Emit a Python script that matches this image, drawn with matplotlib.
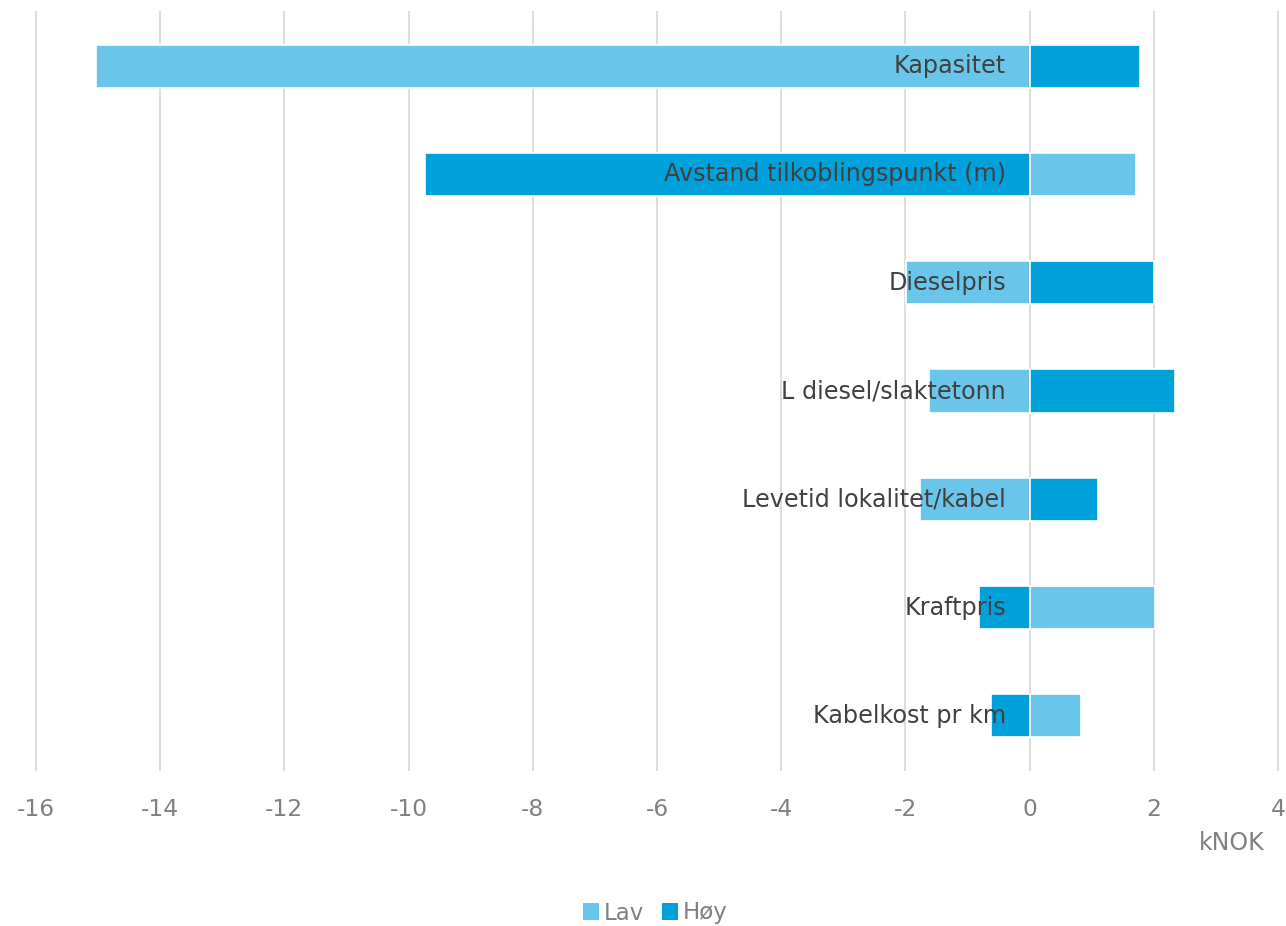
import numpy as np
import matplotlib.pyplot as plt
from matplotlib.patches import Patch

plt.rcParams["axes.unicode_minus"] = False

# Sensitivity (tornado) data, kNOK
categories = ["Kapasitet", "Avstand tilkoblingspunkt (m)", "Dieselpris",
              "L diesel/slaktetonn", "Levetid lokalitet/kabel", "Kraftpris",
              "Kabelkost pr km"]
lav = [-15.03, 1.72, -1.99, -1.62, -1.76, 2.02, 0.83]
hoy = [1.77, -9.74, 2.00, 2.34, 1.10, -0.81, -0.62]

c_lav = "#69C5EA"
c_hoy = "#00A1DA"

fig = plt.figure(figsize=(12.86, 9.26), dpi=100)
ax = fig.add_axes([0.028, 0.1685, 0.9658, 0.8185])

y = np.arange(len(categories))
ax.barh(y, lav, height=0.4, color=c_lav, edgecolor="white", linewidth=1.2, zorder=2)
ax.barh(y, hoy, height=0.4, color=c_hoy, edgecolor="white", linewidth=1.2, zorder=2)

for i, name in enumerate(categories):
    ax.annotate(name, xy=(0, i), xytext=(-17, 0), textcoords="offset points",
                ha="right", va="center", fontsize=17.2, color="#404040", zorder=3)

ax.set_xlim(-16, 4)
ax.set_ylim(len(categories) - 0.5, -0.5)
ax.set_xticks(np.arange(-16, 5, 2))
ax.set_yticks([])
ax.grid(axis="x", color="#DDDDDD", linewidth=1.4, zorder=0)
for gl in ax.get_xgridlines():
    gl.set_clip_on(False)
ax.set_axisbelow(True)
for s in ax.spines.values():
    s.set_visible(False)
ax.tick_params(axis="x", length=0, pad=20, labelsize=16.8, labelcolor="#808080")

fig.text(1232 / 1286, 1 - 843 / 926, "kNOK", ha="center", va="center",
         fontsize=17, color="#808080")

handles = [Patch(facecolor=c_lav, label="Lav"), Patch(facecolor=c_hoy, label="Høy")]
fig.legend(handles=handles, loc="center", bbox_to_anchor=(655 / 1286, 1 - 913 / 926),
           ncol=2, frameon=False, fontsize=16.5, handlelength=0.7, handleheight=0.7,
           handletextpad=0.2, columnspacing=0.8, labelcolor="#808080")

fig.savefig("out.png", dpi=100)
